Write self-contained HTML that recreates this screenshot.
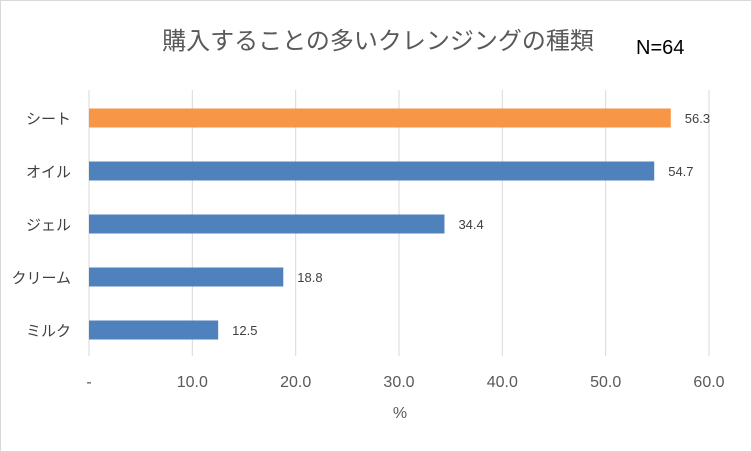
<!DOCTYPE html>
<html><head><meta charset="utf-8"><style>
body{margin:0;background:#fff}
svg{display:block;font-family:"Liberation Sans","Noto Sans CJK JP",sans-serif}
</style></head><body>
<svg id="c" width="752" height="452">
<rect x="0.5" y="0.5" width="751" height="451" fill="#fff" stroke="#d9d9d9"/>
<text x="378" y="49" text-anchor="middle" font-size="24" fill="#595959">購入することの多いクレンジングの種類</text>
<text x="636" y="54" font-size="20" fill="#000">N=64</text>
<text x="400" y="418" text-anchor="middle" font-size="16" fill="#595959">%</text>
<g id="grid"></g><g id="bars"></g>
</svg>
<script>
const categories=["シート","オイル","ジェル","クリーム","ミルク"];
const values=[56.3,54.7,34.4,18.8,12.5];
const ticks=[0,10,20,30,40,50,60];
const tickLabels=["-","10.0","20.0","30.0","40.0","50.0","60.0"];
const NS="http://www.w3.org/2000/svg";
const x=v=>89+v*(620/60);
const y=i=>118+i*53;
const g=document.getElementById('grid'),b=document.getElementById('bars');
function mk(p,t,a){const e=document.createElementNS(NS,t);for(const k in a)e.setAttribute(k,a[k]);p.appendChild(e);return e;}
ticks.forEach((t,i)=>{
 const l=mk(g,'line',{x1:x(t),x2:x(t),y1:90,y2:356,stroke:'#d9d9d9','stroke-width':1});
 
 
 const tx=mk(g,'text',{x:x(t),y:387,'text-anchor':'middle','font-size':16,fill:'#595959'});
 tx.textContent=tickLabels[i];
 
 
});
categories.forEach((c,i)=>{
 const r=mk(b,'rect',{x:x(0),y:y(i)-9.5,width:x(values[i])-x(0),height:19,fill:i==0?'#f79646':'#4f81bd'});
 
 
 const cl=mk(b,'text',{x:71,y:y(i)+6,'text-anchor':'end','font-size':15,fill:'#404040'});
 cl.textContent=c;
 
 
 const vl=mk(b,'text',{x:x(values[i])+14,y:y(i)+5,'font-size':13,fill:'#404040'});
 vl.textContent=values[i].toFixed(1);
 
 
});
</script>
</body></html>
